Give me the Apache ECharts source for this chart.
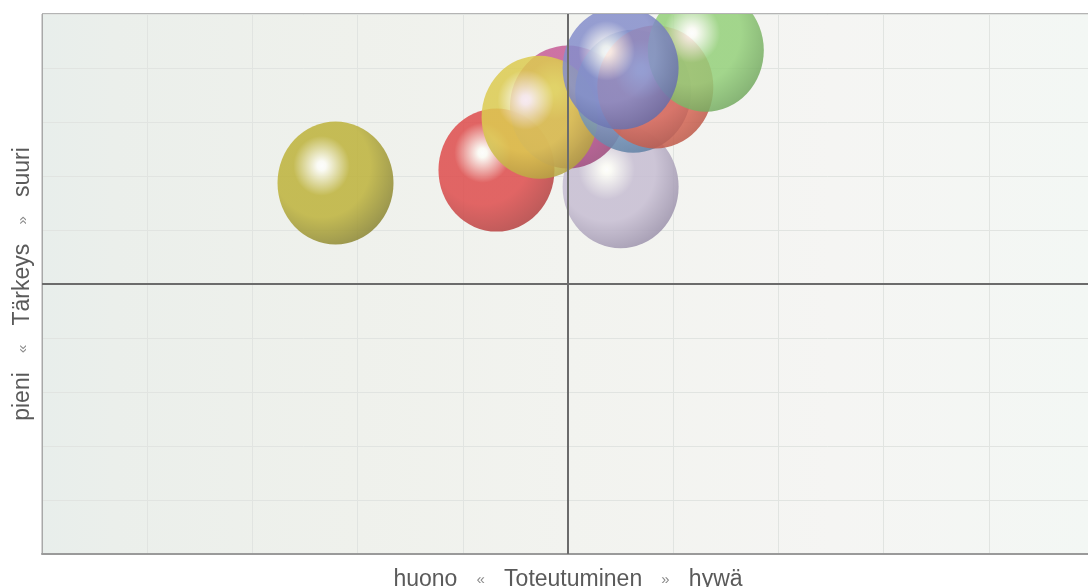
<!DOCTYPE html>
<html>
<head>
<meta charset="utf-8">
<script src="https://cdn.jsdelivr.net/npm/echarts@6/dist/echarts.min.js"></script>
<style>
  html, body { margin: 0; padding: 0; background: #fff; }
  #main { width: 1088px; height: 587px; }
</style>
</head>
<body>
<div id="main"></div>
<script>
// data (x = Toteutuminen, y = Tärkeys)
const bubbleNames = ['1', '2', '3', '4', '5', '6', '7', '8', '9'];
const xValues = [-2.21, -0.68, 0.50, 0.00, -0.27, 0.62, 0.83, 1.31, 0.50];
const yValues = [1.87, 2.11, 1.80, 3.28, 3.09, 3.57, 3.65, 4.33, 4.00];

// [mid colour, rim colour] for each bubble, same order as above
const palette = [
  ['#bdb23a', '#7c782f'],
  ['#de4c4c', '#a83c3c'],
  ['#c6bdd2', '#8f85a0'],
  ['#c65c96', '#924474'],
  ['#dccb50', '#a8983c'],
  ['#7a9cc0', '#56769a'],
  ['#e66e5c', '#b25242'],
  ['#94d07a', '#6a9e58'],
  ['#858ecb', '#5c64a0']
];

function ball(mid, rim) {
  return {
    type: 'radial', x: 0.38, y: 0.36, r: 0.76,
    colorStops: [
      { offset: 0, color: '#ffffff' },
      { offset: 0.05, color: '#fcfcf6' },
      { offset: 0.32, color: mid },
      { offset: 0.55, color: mid },
      { offset: 1, color: rim }
    ]
  };
}

const series = bubbleNames.map((name, i) => ({
  name: name,
  type: 'scatter',
  symbol: 'circle',
  symbolSize: [116, 123],
  itemStyle: { color: ball(palette[i][0], palette[i][1]), opacity: 0.85 },
  data: [[xValues[i], yValues[i]]],
  z: 3
}));

// cross lines through the middle
series.push({
  type: 'scatter',
  data: [],
  markLine: {
    silent: true,
    symbol: 'none',
    label: { show: false },
    lineStyle: { color: '#6b6b6b', width: 2, type: 'solid' },
    data: [{ xAxis: 0 }, { yAxis: 0 }]
  },
  z: 2
});

const nameRich = {
  t: { fontFamily: 'Liberation Sans', fontSize: 23, color: '#5a5a5a' },
  a: { fontFamily: 'Liberation Sans', fontSize: 15, color: '#8a8a8a' }
};

const myChart = echarts.init(document.getElementById('main'));
myChart.setOption({
  animation: false,
  grid: {
    left: 42, top: 14, width: 1052, height: 540,
    outerBoundsMode: 'none',
    containLabel: false,
    show: true,
    borderColor: '#a8a8a8',
    borderWidth: 1,
    backgroundColor: {
      type: 'linear', x: 0, y: 0, x2: 1, y2: 0,
      colorStops: [
        { offset: 0, color: '#e8eeeb' },
        { offset: 0.07, color: '#ebefeb' },
        { offset: 0.3, color: '#eff1ec' },
        { offset: 0.5, color: '#f2f3ef' },
        { offset: 0.75, color: '#f5f5f3' },
        { offset: 1, color: '#f3f7f4' }
      ]
    }
  },
  xAxis: {
    type: 'value', min: -5, max: 5, interval: 1,
    axisLabel: { show: false },
    axisTick: { show: false },
    axisLine: { onZero: false, lineStyle: { color: '#9a9a9a', width: 2 } },
    splitLine: { lineStyle: { color: '#e1e4e1' } },
    name: '{t|huono}   {a|«}   {t|Toteutuminen}   {a|»}   {t|hywä}',
    nameLocation: 'middle',
    nameGap: 14,
    nameTextStyle: { fontFamily: 'Liberation Sans', fontSize: 23, rich: nameRich }
  },
  yAxis: {
    type: 'value', min: -5, max: 5, interval: 1,
    axisLabel: { show: false },
    axisTick: { show: false },
    axisLine: { onZero: false, lineStyle: { color: '#a8a8a8', width: 1 } },
    splitLine: { lineStyle: { color: '#e1e4e1' } },
    name: '{t|pieni}   {a|«}   {t|Tärkeys}   {a|»}   {t|suuri}',
    nameLocation: 'middle',
    nameGap: 8,
    nameTextStyle: { fontFamily: 'Liberation Sans', fontSize: 23, rich: nameRich }
  },
  // bubbles are cut off at the top edge of the plot
  graphic: [
    { type: 'rect', shape: { x: 0, y: 0, width: 1088, height: 13 }, style: { fill: '#fff' }, z: 100 },
    { type: 'rect', shape: { x: 42, y: 13, width: 1046, height: 1 }, style: { fill: '#b4b4b4' }, z: 100 }
  ],
  series: series
});
</script>
</body>
</html>
